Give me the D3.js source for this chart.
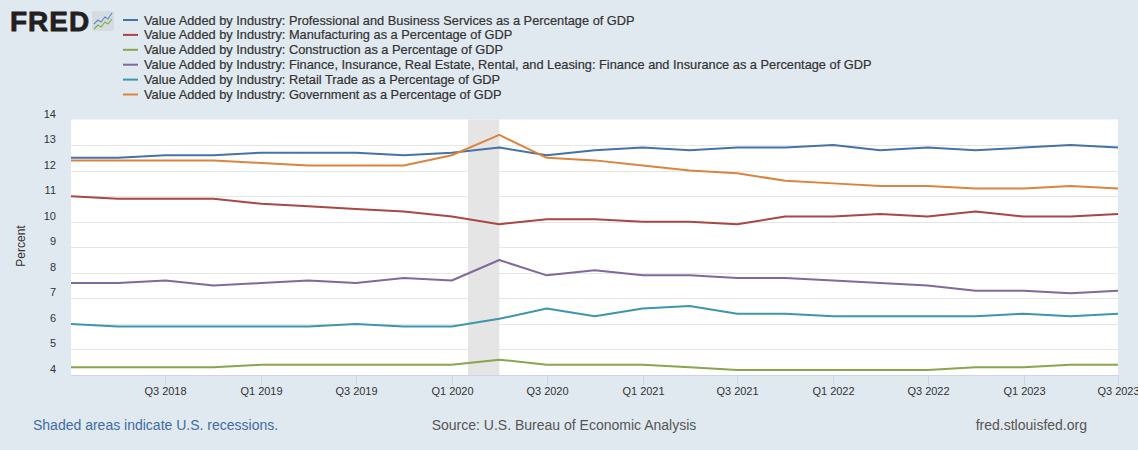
<!DOCTYPE html>
<html>
<head>
<meta charset="utf-8">
<script src="https://cdn.jsdelivr.net/npm/d3@7"></script>
<style>
  body { margin: 0; background: #e1e9f0; }
  svg { display: block; font-family: "Liberation Sans", Arial, sans-serif; }
</style>
</head>
<body>
<script>
// quarterly observations, Q1 2018 .. Q3 2023
const quarters = ["2018-01-01","2018-04-01","2018-07-01","2018-10-01","2019-01-01","2019-04-01",
  "2019-07-01","2019-10-01","2020-01-01","2020-04-01","2020-07-01","2020-10-01","2021-01-01",
  "2021-04-01","2021-07-01","2021-10-01","2022-01-01","2022-04-01","2022-07-01","2022-10-01",
  "2023-01-01","2023-04-01","2023-07-01"];

const profBusiness = [12.5,12.5,12.6,12.6,12.7,12.7,12.7,12.6,12.7,12.9,12.6,12.8,12.9,12.8,12.9,12.9,13.0,12.8,12.9,12.8,12.9,13.0,12.9];
const manufacturing = [11.0,10.9,10.9,10.9,10.7,10.6,10.5,10.4,10.2,9.9,10.1,10.1,10.0,10.0,9.9,10.2,10.2,10.3,10.2,10.4,10.2,10.2,10.3];
const construction = [4.3,4.3,4.3,4.3,4.4,4.4,4.4,4.4,4.4,4.6,4.4,4.4,4.4,4.3,4.2,4.2,4.2,4.2,4.2,4.3,4.3,4.4,4.4];
const finance = [7.6,7.6,7.7,7.5,7.6,7.7,7.6,7.8,7.7,8.5,7.9,8.1,7.9,7.9,7.8,7.8,7.7,7.6,7.5,7.3,7.3,7.2,7.3];
const retail = [6.0,5.9,5.9,5.9,5.9,5.9,6.0,5.9,5.9,6.2,6.6,6.3,6.6,6.7,6.4,6.4,6.3,6.3,6.3,6.3,6.4,6.3,6.4];
const government = [12.4,12.4,12.4,12.4,12.3,12.2,12.2,12.2,12.6,13.4,12.5,12.4,12.2,12.0,11.9,11.6,11.5,11.4,11.4,11.3,11.3,11.4,11.3];

const seriesNames = [
  "Value Added by Industry: Professional and Business Services as a Percentage of GDP",
  "Value Added by Industry: Manufacturing as a Percentage of GDP",
  "Value Added by Industry: Construction as a Percentage of GDP",
  "Value Added by Industry: Finance, Insurance, Real Estate, Rental, and Leasing: Finance and Insurance as a Percentage of GDP",
  "Value Added by Industry: Retail Trade as a Percentage of GDP",
  "Value Added by Industry: Government as a Percentage of GDP"
];
const seriesColors = ["#4572a7", "#aa4643", "#89a54e", "#80699b", "#3d96ae", "#db843d"];
const seriesValues = [profBusiness, manufacturing, construction, finance, retail, government];

const xTickDates = ["2018-07-01","2019-01-01","2019-07-01","2020-01-01","2020-07-01","2021-01-01",
  "2021-07-01","2022-01-01","2022-07-01","2023-01-01","2023-07-01"];
const xTickLabels = ["Q3 2018","Q1 2019","Q3 2019","Q1 2020","Q3 2020","Q1 2021",
  "Q3 2021","Q1 2022","Q3 2022","Q1 2023","Q3 2023"];
const yTicks = [4,5,6,7,8,9,10,11,12,13,14];

const recessions = [["2020-02-01", "2020-04-01"]];

const parse = d3.timeParse("%Y-%m-%d");

const W = 1138, H = 450;
const plotLeft = 71, plotRight = 1118, plotTop = 119.5, plotBottom = 375;

let svg = d3.select("body").append("svg")
    .attr("width", W)
    .attr("height", H)

svg.append("rect")
    .attr("width", W)
    .attr("height", H)
    .attr("fill", "#e1e9f0")

let x = d3.scaleTime()
    .domain([parse(quarters[0]), parse(quarters[quarters.length - 1])])
    .range([plotLeft, plotRight])
let y = d3.scaleLinear()
    .domain([4, 14])
    .range([plotBottom, plotTop])

// plot background
svg.append("rect")
    .attr("x", plotLeft)
    .attr("y", plotTop)
    .attr("width", plotRight - plotLeft)
    .attr("height", plotBottom - plotTop)
    .attr("fill", "#ffffff")

// grid
svg.append("g")
    .selectAll("line")
    .data(yTicks.filter(d => d > 4 && d < 14))
    .join("line")
    .attr("x1", plotLeft)
    .attr("x2", plotRight)
    .attr("y1", d => Math.round(y(d)) + 0.5)
    .attr("y2", d => Math.round(y(d)) + 0.5)
    .attr("stroke", "#e6e6e6")
    .attr("stroke-width", 1)

// recession shading
svg.append("g")
    .selectAll("rect")
    .data(recessions)
    .join("rect")
    .attr("x", d => x(parse(d[0])))
    .attr("width", d => x(parse(d[1])) - x(parse(d[0])))
    .attr("y", plotTop)
    .attr("height", plotBottom - plotTop)
    .attr("fill", "#e5e5e5")

// y labels
svg.append("g")
    .selectAll("text")
    .data(yTicks)
    .join("text")
    .attr("x", 56)
    .attr("y", d => y(d) - 6)
    .attr("text-anchor", "end")
    .attr("dominant-baseline", "central")
    .attr("font-size", "11px")
    .attr("fill", "#333333")
    .text(d => d)

svg.append("text")
    .attr("transform", "translate(21,246) rotate(-90)")
    .attr("text-anchor", "middle")
    .attr("dominant-baseline", "central")
    .attr("font-size", "12px")
    .attr("fill", "#333333")
    .text("Percent")

// x axis
svg.append("line")
    .attr("x1", plotLeft)
    .attr("x2", plotRight)
    .attr("y1", plotBottom + 0.5)
    .attr("y2", plotBottom + 0.5)
    .attr("stroke", "#ccd6eb")

let xTicks = svg.append("g")
    .selectAll("g")
    .data(xTickDates)
    .join("g")
    .attr("transform", d => "translate(" + (Math.round(x(parse(d))) + 0.5) + ",0)")

xTicks.append("line")
    .attr("y1", plotBottom)
    .attr("y2", plotBottom + 10)
    .attr("stroke", "#ccd6eb")

xTicks.append("text")
    .attr("y", 391)
    .attr("text-anchor", "middle")
    .attr("dominant-baseline", "central")
    .attr("font-size", "11px")
    .attr("fill", "#333333")
    .text((d, i) => xTickLabels[i])

// series lines
let line = d3.line()
    .x((d, i) => x(parse(quarters[i])))
    .y(d => y(d))

svg.append("g")
    .selectAll("path")
    .data(seriesValues)
    .join("path")
    .attr("d", d => line(d))
    .attr("fill", "none")
    .attr("stroke", (d, i) => seriesColors[i])
    .attr("stroke-width", 2)
    .attr("stroke-linejoin", "round")

// legend
let legendRows = svg.append("g")
    .selectAll("g")
    .data(seriesNames)
    .join("g")
    .attr("transform", (d, i) => "translate(123," + (20 + i * 14.9) + ")")

legendRows.append("line")
    .attr("x1", 0)
    .attr("x2", 15)
    .attr("stroke", (d, i) => seriesColors[i])
    .attr("stroke-width", 2)

legendRows.append("text")
    .attr("x", 21)
    .attr("dominant-baseline", "central")
    .attr("font-size", "12.8px")
    .attr("fill", "#333333")
    .attr("stroke", "#333333")
    .attr("stroke-width", 0.2)
    .text(d => d)

// FRED logo
svg.append("text")
    .attr("x", 10)
    .attr("y", 31)
    .attr("font-size", "28px")
    .attr("font-weight", "bold")
    .attr("letter-spacing", "1")
    .attr("fill", "#231f20")
    .attr("stroke", "#231f20")
    .attr("stroke-width", 0.8)
    .text("FRED")

let icon = svg.append("g").attr("transform", "translate(92,11)")
icon.append("rect")
    .attr("width", 22)
    .attr("height", 20)
    .attr("rx", 2)
    .attr("fill", "#d6dbe2")
icon.append("polyline")
    .attr("points", "2,13 6,9 9,11 13,6 16,8 20,2")
    .attr("fill", "none")
    .attr("stroke", "#5b8fc9")
    .attr("stroke-width", 1.2)
icon.append("polyline")
    .attr("points", "2,18 6,14 9,16 13,11 16,13 20,8")
    .attr("fill", "none")
    .attr("stroke", "#7fb04a")
    .attr("stroke-width", 1.2)

// footer
svg.append("text")
    .attr("x", 33)
    .attr("y", 425)
    .attr("dominant-baseline", "central")
    .attr("font-size", "14px")
    .attr("fill", "#3d6ca6")
    .text("Shaded areas indicate U.S. recessions.")

svg.append("text")
    .attr("x", 564)
    .attr("y", 425)
    .attr("text-anchor", "middle")
    .attr("dominant-baseline", "central")
    .attr("font-size", "14px")
    .attr("fill", "#555555")
    .text("Source: U.S. Bureau of Economic Analysis")

svg.append("text")
    .attr("x", 1087)
    .attr("y", 425)
    .attr("text-anchor", "end")
    .attr("dominant-baseline", "central")
    .attr("font-size", "14px")
    .attr("fill", "#555555")
    .text("fred.stlouisfed.org")
</script>
</body>
</html>
